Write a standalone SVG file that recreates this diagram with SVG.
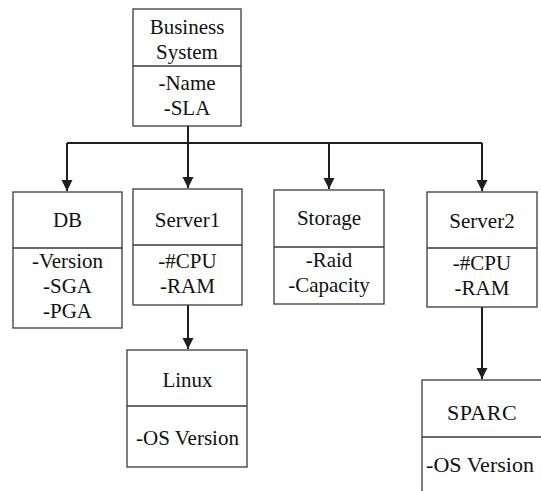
<svg xmlns="http://www.w3.org/2000/svg" width="541" height="491" viewBox="0 0 541 491">
  <style>
    .box { fill: #ffffff; stroke: #3a3a3a; stroke-width: 1.3; }
    .div { stroke: #3a3a3a; stroke-width: 1.3; fill: none; }
    .t { font-family: "Liberation Serif", "Times New Roman", serif; font-size: 21px; fill: #111111; text-anchor: middle; }
    .big { font-size: 22px; }
    .wire { stroke: #1e1e1e; stroke-width: 2; fill: none; }
  </style>
  <defs>
    <marker id="arrow" markerUnits="userSpaceOnUse" markerWidth="12" markerHeight="12" refX="11" refY="5.5" orient="auto">
      <path d="M0,0 L11,5.5 L0,11 Z" fill="#1e1e1e"/>
    </marker>
  </defs>

  <rect width="541" height="491" fill="#ffffff"/>

  <!-- connectors -->
  <g id="connectors">
    <path class="wire" d="M188,126 V143"/>
    <path class="wire" d="M67,143 H482"/>
    <path class="wire" d="M67,143 V191" marker-end="url(#arrow)"/>
    <path class="wire" d="M188,143 V188" marker-end="url(#arrow)"/>
    <path class="wire" d="M329,143 V189" marker-end="url(#arrow)"/>
    <path class="wire" d="M482,143 V191" marker-end="url(#arrow)"/>
    <path class="wire" d="M188,305 V349" marker-end="url(#arrow)"/>
    <path class="wire" d="M482,307 V379" marker-end="url(#arrow)"/>
  </g>

  <!-- Business System -->
  <g id="business-system">
    <rect class="box" x="133" y="9" width="108" height="117"/>
    <line class="div" x1="133" y1="66" x2="241" y2="66"/>
    <text class="t" x="187" y="34">Business</text>
    <text class="t" x="187" y="59">System</text>
    <text class="t" x="187" y="90">-Name</text>
    <text class="t" x="187" y="115">-SLA</text>
  </g>

  <!-- DB -->
  <g id="db">
    <rect class="box" x="13" y="192" width="109" height="136"/>
    <line class="div" x1="13" y1="248" x2="122" y2="248"/>
    <text class="t" x="67.5" y="227">DB</text>
    <text class="t" x="67.5" y="268">-Version</text>
    <text class="t" x="67.5" y="293">-SGA</text>
    <text class="t" x="67.5" y="318">-PGA</text>
  </g>

  <!-- Server1 -->
  <g id="server1">
    <rect class="box" x="133" y="189" width="109" height="116"/>
    <line class="div" x1="133" y1="245" x2="242" y2="245"/>
    <text class="t" x="187.5" y="227">Server1</text>
    <text class="t" x="187.5" y="268">-#CPU</text>
    <text class="t" x="187.5" y="293">-RAM</text>
  </g>

  <!-- Storage -->
  <g id="storage">
    <rect class="box" x="274" y="190" width="110" height="114"/>
    <line class="div" x1="274" y1="247" x2="384" y2="247"/>
    <text class="t" x="329" y="225">Storage</text>
    <text class="t" x="329" y="267">-Raid</text>
    <text class="t" x="329" y="292">-Capacity</text>
  </g>

  <!-- Server2 -->
  <g id="server2">
    <rect class="box" x="427" y="192" width="110" height="115"/>
    <line class="div" x1="427" y1="248" x2="537" y2="248"/>
    <text class="t" x="482" y="228">Server2</text>
    <text class="t" x="482" y="270">-#CPU</text>
    <text class="t" x="482" y="295">-RAM</text>
  </g>

  <!-- Linux -->
  <g id="linux">
    <rect class="box" x="127" y="350" width="120" height="117"/>
    <line class="div" x1="127" y1="406" x2="247" y2="406"/>
    <text class="t" x="187.5" y="387">Linux</text>
    <text class="t" x="187.5" y="445">-OS Version</text>
  </g>

  <!-- SPARC (runs past the right and bottom edges) -->
  <g id="sparc">
    <rect class="box" x="422" y="380" width="130" height="130"/>
    <line class="div" x1="422" y1="437" x2="552" y2="437"/>
    <text class="t big" x="482" y="420" letter-spacing="0.5">SPARC</text>
    <text class="t big" x="480" y="472">-OS Version</text>
  </g>
</svg>
